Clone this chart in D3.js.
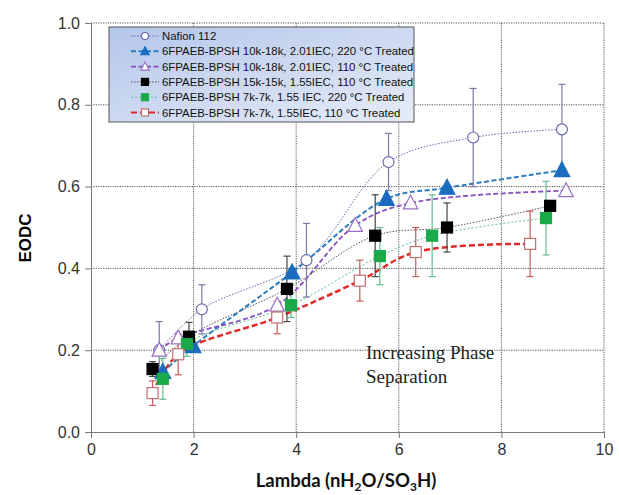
<!DOCTYPE html>
<html>
<head>
<meta charset="utf-8">
<script src="https://cdn.jsdelivr.net/npm/d3@7"></script>
<style>
  body { margin: 0; background: #fff; }
  svg { display: block; }
</style>
</head>
<body>
<div id="chart"></div>
<script>
// Data: lambda (x), EODC (y), error bar half-widths
const seriesNames = [
  "Nafion 112",
  "6FPAEB-BPSH 10k-18k, 2.01IEC, 220 °C Treated",
  "6FPAEB-BPSH 10k-18k, 2.01IEC, 110 °C Treated",
  "6FPAEB-BPSH 15k-15k, 1.55IEC, 110 °C Treated",
  "6FPAEB-BPSH 7k-7k, 1.55 IEC, 220 °C Treated",
  "6FPAEB-BPSH 7k-7k, 1.55IEC, 110 °C Treated"
];

const lambdaNafion = [1.33, 2.16, 4.2, 5.8, 7.45, 9.18];
const eodcNafion = [0.20, 0.30, 0.42, 0.66, 0.72, 0.74];
const errNafion = [0.07, 0.06, 0.09, 0.07, 0.12, 0.11];

const lambda10k220 = [1.4, 1.99, 3.92, 5.76, 6.94, 9.18];
const eodc10k220 = [0.147, 0.21, 0.39, 0.57, 0.597, 0.64];
const err10k220 = [0, 0, 0, 0, 0, 0];

const lambda10k110 = [1.33, 1.7, 3.63, 5.15, 6.23, 9.26];
const eodc10k110 = [0.20, 0.23, 0.31, 0.505, 0.56, 0.59];
const err10k110 = [0, 0, 0, 0, 0, 0];

const lambda15k110 = [1.2, 1.91, 3.82, 5.54, 6.94, 8.95];
const eodc15k110 = [0.154, 0.233, 0.35, 0.48, 0.50, 0.553];
const err15k110 = [0.018, 0.035, 0.08, 0.1, 0.06, 0];

const lambda7k220 = [1.4, 1.87, 3.9, 5.63, 6.65, 8.87];
const eodc7k220 = [0.13, 0.215, 0.31, 0.43, 0.48, 0.523];
const err7k220 = [0.05, 0.03, 0.03, 0.07, 0.10, 0.09];

const lambda7k110 = [1.2, 1.7, 3.63, 5.24, 6.33, 8.56];
const eodc7k110 = [0.095, 0.19, 0.28, 0.37, 0.44, 0.46];
const err7k110 = [0.03, 0.05, 0.04, 0.05, 0.06, 0.08];

const xTicks = [0, 2, 4, 6, 8, 10];
const yTicks = [0.0, 0.2, 0.4, 0.6, 0.8, 1.0];

// styling per series
const styles = [
  { line: "#6a6ab0", width: 1, dash: "1.5,1.5", marker: "circle", fill: "#fff", stroke: "#6a6ab0", err: "#7a7aa8" },
  { line: "#2b7cc0", width: 2, dash: "5,2.5", marker: "triangle", fill: "#1b6cc0", stroke: "#1b6cc0", err: "#2b7cc0" },
  { line: "#8a50c0", width: 1.8, dash: "5,2.5", marker: "triangle", fill: "#fff", stroke: "#9a70c0", err: "#9a70c0" },
  { line: "#555", width: 1, dash: "1.5,1.5", marker: "square", fill: "#000", stroke: "#000", err: "#444" },
  { line: "#5cc0a0", width: 1, dash: "2,2", marker: "square", fill: "#1aaa4a", stroke: "#1aaa4a", err: "#66bb90" },
  { line: "#e02a2a", width: 2.5, dash: "6,3", marker: "square", fill: "#fff", stroke: "#c07070", err: "#c85a5a" }
];

const xs = [lambdaNafion, lambda10k220, lambda10k110, lambda15k110, lambda7k220, lambda7k110];
const ys = [eodcNafion, eodc10k220, eodc10k110, eodc15k110, eodc7k220, eodc7k110];
const es = [errNafion, err10k220, err10k110, err15k110, err7k220, err7k110];

const series = seriesNames.map((name, i) => ({
  name: name,
  style: styles[i],
  points: xs[i].map((x, j) => ({ x: x, y: ys[i][j], e: es[i][j] }))
}));

const margin = { top: 23, right: 15, bottom: 63, left: 91 };
const width = 513;
const height = 409;

const svg = d3.select("#chart")
  .append("svg")
  .attr("width", 619)
  .attr("height", 495);

const g = svg.append("g")
  .attr("transform", `translate(${margin.left},${margin.top})`);

const x = d3.scaleLinear().domain([0, 10]).range([0, width]);
const y = d3.scaleLinear().domain([0, 1]).range([height, 0]);

// dotted grid
g.append("g")
  .selectAll("line")
  .data(xTicks.slice(1))
  .join("line")
  .attr("x1", (d) => x(d)).attr("x2", (d) => x(d))
  .attr("y1", 0).attr("y2", height)
  .attr("stroke", "#555")
  .attr("stroke-dasharray", "1.2,1.2");

g.append("g")
  .selectAll("line")
  .data(yTicks.slice(1))
  .join("line")
  .attr("x1", 0).attr("x2", width)
  .attr("y1", (d) => y(d)).attr("y2", (d) => y(d))
  .attr("stroke", "#555")
  .attr("stroke-dasharray", "1.2,1.2");

// axes
const xAxis = g.append("g")
  .attr("transform", `translate(0,${height})`)
  .call(d3.axisBottom(x).tickValues(xTicks).tickSize(6).tickPadding(6).tickFormat(d3.format("d")));

const yAxis = g.append("g")
  .call(d3.axisLeft(y).tickValues(yTicks).tickSize(6).tickPadding(5).tickFormat(d3.format(".1f")));

[xAxis, yAxis].forEach((a) => {
  a.select(".domain").attr("stroke", "#777");
  a.selectAll(".tick line").attr("stroke", "#777");
  a.selectAll(".tick text")
    .style("font-family", "'Liberation Sans', Arial, sans-serif")
    .style("font-size", "16px")
    .attr("fill", "#333");
});

// lines
const line = d3.line()
  .x((d) => x(d.x))
  .y((d) => y(d.y))
  .curve(d3.curveCatmullRom.alpha(0.5));

series.forEach((s) => {
  g.append("path")
    .datum(s.points)
    .attr("fill", "none")
    .attr("stroke", s.style.line)
    .attr("stroke-width", s.style.width)
    .attr("stroke-dasharray", s.style.dash)
    .attr("d", line);
});

// error bars
series.forEach((s) => {
  const eb = g.append("g");
  s.points.filter((p) => p.e > 0).forEach((p) => {
    const cx = x(p.x);
    eb.append("line")
      .attr("x1", cx).attr("x2", cx)
      .attr("y1", y(p.y - p.e)).attr("y2", y(p.y + p.e))
      .attr("stroke", s.style.err).attr("stroke-width", 1.2);
    [p.y - p.e, p.y + p.e].forEach((v) => {
      eb.append("line")
        .attr("x1", cx - 3.5).attr("x2", cx + 3.5)
        .attr("y1", y(v)).attr("y2", y(v))
        .attr("stroke", s.style.err).attr("stroke-width", 1.2);
    });
  });
});

// markers
function drawMarker(sel, type, cx, cy, size, st) {
  if (type === "circle") {
    sel.append("circle")
      .attr("cx", cx).attr("cy", cy).attr("r", size / 2)
      .attr("fill", st.fill).attr("stroke", st.stroke).attr("stroke-width", 1.2);
  } else if (type === "square") {
    sel.append("rect")
      .attr("x", cx - size / 2).attr("y", cy - size / 2)
      .attr("width", size).attr("height", size)
      .attr("fill", st.fill).attr("stroke", st.stroke).attr("stroke-width", 1.2);
  } else {
    const h = size * 1.1;
    sel.append("path")
      .attr("d", `M${cx},${cy - h * 0.6}L${cx + size * 0.6},${cy + h * 0.45}L${cx - size * 0.6},${cy + h * 0.45}Z`)
      .attr("fill", st.fill).attr("stroke", st.stroke).attr("stroke-width", 1.2);
  }
}

const markerSize = [11, 13, 12, 11, 11, 11];
series.forEach((s, i) => {
  const mg = g.append("g");
  s.points.forEach((p) => drawMarker(mg, s.style.marker, x(p.x), y(p.y), markerSize[i], s.style));
});

// legend
const defs = svg.append("defs");
const grad = defs.append("linearGradient")
  .attr("id", "legendGrad")
  .attr("x1", "0%").attr("y1", "0%").attr("x2", "100%").attr("y2", "100%");
grad.append("stop").attr("offset", "0%").attr("stop-color", "#b4c6ea");
grad.append("stop").attr("offset", "100%").attr("stop-color", "#e6ecf8");

const legend = svg.append("g").attr("transform", "translate(109,27)");
legend.append("rect")
  .attr("width", 305).attr("height", 95)
  .attr("fill", "url(#legendGrad)")
  .attr("stroke", "#555").attr("stroke-width", 1);

series.forEach((s, i) => {
  const ly = 9 + i * 15.3;
  legend.append("line")
    .attr("x1", 22).attr("x2", 50)
    .attr("y1", ly).attr("y2", ly)
    .attr("stroke", s.style.line)
    .attr("stroke-width", Math.min(s.style.width, 2))
    .attr("stroke-dasharray", s.style.dash);
  drawMarker(legend, s.style.marker, 36, ly, 7, s.style);
  legend.append("text")
    .attr("x", 53).attr("y", ly + 4)
    .text(s.name)
    .style("font-family", "'Liberation Sans', Arial, sans-serif")
    .style("font-size", "11.4px")
    .attr("fill", "#111");
});

// axis titles
svg.append("text")
  .text("EODC")
  .attr("transform", "translate(31,238) rotate(-90)")
  .attr("text-anchor", "middle")
  .style("font-family", "'Liberation Sans', Arial, sans-serif")
  .style("font-size", "17px")
  .style("font-weight", "bold");

const xt = svg.append("text")
  .attr("x", 346).attr("y", 487)
  .attr("text-anchor", "middle")
  .style("font-family", "Lato, 'Open Sans', sans-serif")
  .style("font-size", "18.5px")
  .style("font-weight", "bold")
  .attr("fill", "#111");
xt.append("tspan").text("Lambda (nH");
xt.append("tspan").text("2").attr("dy", 4).style("font-size", "12px");
xt.append("tspan").text("O/SO").attr("dy", -4);
xt.append("tspan").text("3").attr("dy", 4).style("font-size", "12px");
xt.append("tspan").text("H)").attr("dy", -4);

// annotation
const ann = svg.append("text")
  .attr("x", 366).attr("y", 359)
  .style("font-family", "'Liberation Serif', 'DejaVu Serif', serif")
  .style("font-size", "19px")
  .attr("fill", "#222");
ann.append("tspan").attr("x", 366).text("Increasing Phase");
ann.append("tspan").attr("x", 366).attr("dy", 24).text("Separation");
</script>
</body>
</html>
